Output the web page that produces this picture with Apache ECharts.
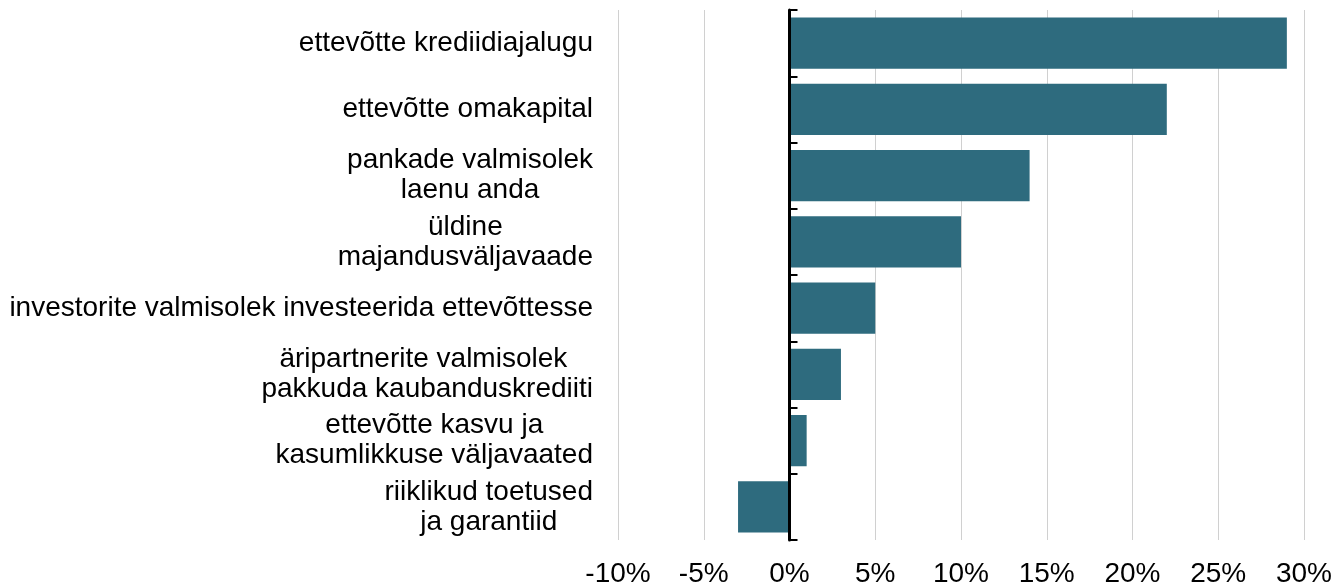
<!DOCTYPE html>
<html>
<head>
<meta charset="utf-8">
<script src="https://cdn.jsdelivr.net/npm/echarts@6/dist/echarts.min.js"></script>
<style>
  html, body { margin: 0; padding: 0; background: #fff; }
  #chart { width: 1334px; height: 585px; }
</style>
</head>
<body>
<div id="chart"></div>
<script>
const categories = [
    'ettevõtte krediidiajalugu',
    'ettevõtte omakapital',
    'pankade valmisolek\nlaenu anda',
    'üldine\nmajandusväljavaade',
    'investorite valmisolek investeerida ettevõttesse',
    'äripartnerite valmisolek \npakkuda kaubanduskrediiti',
    'ettevõtte kasvu ja\nkasumlikkuse väljavaated',
    'riiklikud toetused\nja garantiid'
];
const values = [29, 22, 14, 10, 5, 3, 1, -3];

const chart = echarts.init(document.getElementById('chart'));

const font = '"Liberation Sans", Arial, sans-serif';

const option = {
    backgroundColor: '#fff',
    animation: false,
    grid: {
        left: 618,
        right: 30,
        top: 10,
        bottom: 45,
        outerBoundsMode: 'none',
        containLabel: false
    },
    xAxis: {
        type: 'value',
        min: -10,
        max: 30,
        interval: 5,
        axisLine: { show: false },
        axisTick: { show: false },
        splitLine: { lineStyle: { color: '#d0d0d0', width: 1 } },
        axisLabel: {
            formatter: '{value}%',
            color: '#000',
            fontSize: 28,
            fontFamily: font,
            margin: 20
        }
    },
    yAxis: {
        type: 'category',
        inverse: true,
        data: categories,
        z: 5,
        offset: -171.5,
        axisLine: { show: true, onZero: false, lineStyle: { color: '#000', width: 3 } },
        axisTick: { show: true, inside: true, length: 8, interval: 0, lineStyle: { color: '#000', width: 2 } },
        axisLabel: {
            margin: 196.5,
            color: '#000',
            fontSize: 28,
            fontFamily: font,
            lineHeight: 30,
            interval: 0,
            formatter: function (v) {
                return v.split('\n').map(function (s) { return '{c|' + s + '}'; }).join('\n');
            },
            rich: {
                c: { align: 'center', fontSize: 28, fontFamily: font, color: '#000', lineHeight: 30 }
            }
        }
    },
    series: [{
        type: 'bar',
        data: values,
        barCategoryGap: '23%',
        itemStyle: { color: '#2e6b7e' }
    }]
};

chart.setOption(option);

window.addEventListener('resize', () => {
    chart.resize();
});
</script>
</body>
</html>
